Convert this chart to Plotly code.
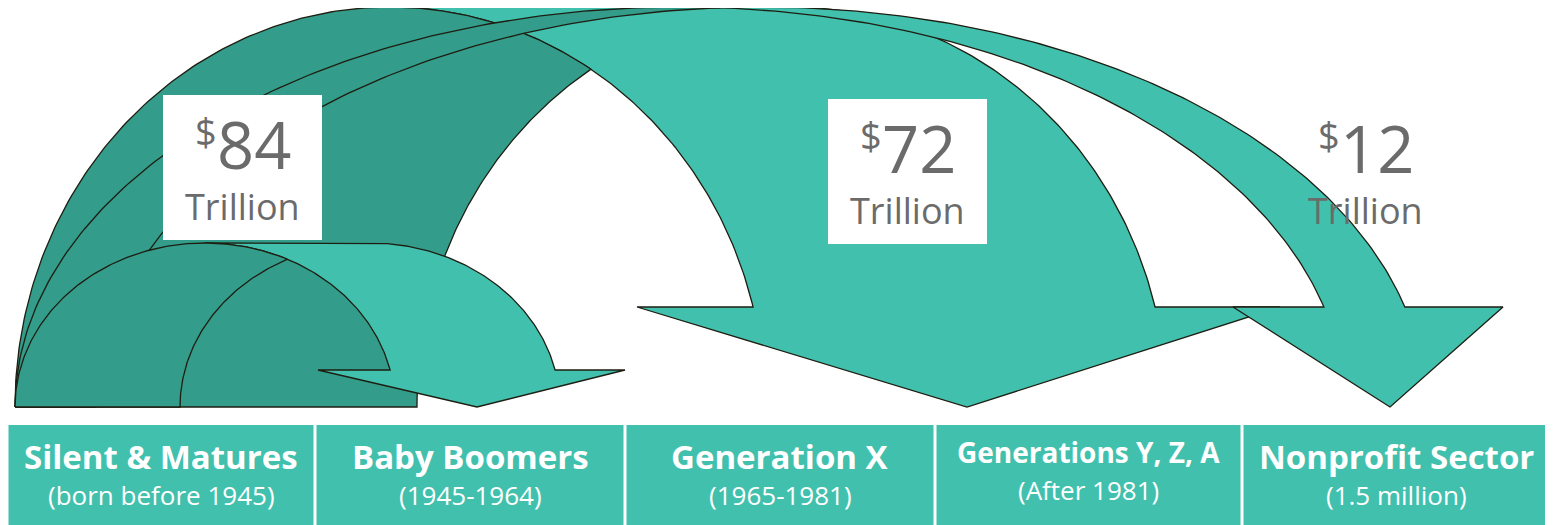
import numpy as np
import plotly.graph_objects as go

# data
generations = ["Silent & Matures", "Baby Boomers", "Generation X", "Generations Y, Z, A", "Nonprofit Sector"]
generation_notes = ["(born before 1945)", "(1945-1964)", "(1965-1981)", "(After 1981)", "(1.5 million)"]
transfer_amounts = [84, 72, 12]
amount_unit = "Trillion"

# look
LIGHT = '#41C1AD'
DARK = '#339C8A'
EDGE = '#1E1E12'
GREY = '#6B6B6B'
W, H = 1553, 525
PAGE_MARGIN = 8  # default body margin of the html page

# curved arrows (PowerPoint style curved-down arrows), pixel geometry
arrows = [
    dict(cxa=390, cxb=792, rx=375, ry=400, base=407, yh=307, head=(637, 967, 1280)),   # to Gen X
    dict(cxa=680, cxb=761, rx=665, ry=400, base=407, yh=307, head=(1233, 1390, 1503)),  # to nonprofits
    dict(cxa=205, cxb=370, rx=190, ry=164, base=407, yh=370, head=(318, 477, 625)),     # to boomers
]
box_edges = [7, 315, 625, 935, 1242, 1560]
box_top = 425
amount_pos = [(242, 95, 322, 240, True), (907, 99, 987, 244, True), (1365, 99, 1420, 244, False)]
amount_box_left = [163, 828, None]


def arc(cx, rx, ry, base, t0, t1, n=120):
    t = np.linspace(t0, t1, n)
    return list(cx + rx * np.cos(t)), list(base - ry * np.sin(t))


def arrow_traces(a):
    cxa, cxb, rx, ry, base, yh = a['cxa'], a['cxb'], a['rx'], a['ry'], a['base'], a['yh']
    hl, tip, hr = a['head']
    th = np.arcsin((base - yh) / ry)
    # light front part
    xs, ys = [cxa], [base - ry]
    x, y = arc(cxb, rx, ry, base, np.pi / 2, th)
    xs += x; ys += y
    xs += [hr, tip, hl]; ys += [yh, base, yh]
    x, y = arc(cxa, rx, ry, base, th, np.pi / 2)
    xs += x; ys += y
    light = go.Scatter(x=xs, y=ys, fill='toself', fillcolor=LIGHT, mode='lines',
                       line=dict(color=EDGE, width=1.3), hoverinfo='skip', showlegend=False)
    # dark back part
    tm = np.arccos((cxb - cxa) / 2 / rx)
    x1, y1 = arc(cxa, rx, ry, base, np.pi, np.pi / 2)
    x2, y2 = arc(cxa, rx, ry, base, np.pi / 2, tm)
    x3, y3 = arc(cxb, rx, ry, base, np.pi - tm, np.pi)
    xs = x1 + x2 + x3 + [x1[0]]
    ys = y1 + y2 + y3 + [y1[0]]
    dark = go.Scatter(x=xs, y=ys, fill='toself', fillcolor=DARK, mode='lines',
                      line=dict(color=EDGE, width=1.3), hoverinfo='skip', showlegend=False)
    return [light, dark]


fig = go.Figure()
for a in arrows:
    for tr in arrow_traces(a):
        fig.add_trace(tr)

# generation boxes
for i, (name, note) in enumerate(zip(generations, generation_notes)):
    x0, x1 = box_edges[i] + 1.5, box_edges[i + 1] - 1.5
    fig.add_shape(type='rect', x0=x0, x1=x1, y0=box_top, y1=H + 5, xref='x', yref='y',
                  fillcolor=LIGHT, line=dict(width=0), layer='above')
    small = len(name) > 17
    cx = (x0 + min(x1, 1550)) / 2
    fig.add_annotation(x=cx, y=452 if small else 456, text=f"<b>{name}</b>", showarrow=False,
                       font=dict(family='Open Sans', size=28 if small else 33, color='white'))
    fig.add_annotation(x=cx, y=490 if small else 495, text=note, showarrow=False,
                       font=dict(family='Open Sans', size=26, color='white'))

# amount labels
for v, (cx, y0, x1, y1, boxed), bx in zip(transfer_amounts, amount_pos, amount_box_left):
    if boxed:
        fig.add_shape(type='rect', x0=bx, x1=x1, y0=y0, y1=y1, xref='x', yref='y',
                      fillcolor='white', line=dict(width=0), layer='above')
    fig.add_annotation(x=cx + 12, y=y0 + 49, text=str(v), showarrow=False,
                       font=dict(family='Open Sans', size=65, color=GREY))
    fig.add_annotation(x=cx - 36, y=y0 + 36, text="$", showarrow=False,
                       font=dict(family='Open Sans', size=38, color=GREY))
    fig.add_annotation(x=cx, y=y0 + 111, text=amount_unit, showarrow=False,
                       font=dict(family='Open Sans', size=36, color=GREY))

fig.update_layout(width=W - PAGE_MARGIN, height=H - PAGE_MARGIN, margin=dict(l=0, r=0, t=0, b=0),
                  plot_bgcolor='white', paper_bgcolor='white', showlegend=False,
                  xaxis=dict(range=[PAGE_MARGIN, W], visible=False, fixedrange=True),
                  yaxis=dict(range=[H, PAGE_MARGIN], visible=False, fixedrange=True))
fig.write_html("out.html")
